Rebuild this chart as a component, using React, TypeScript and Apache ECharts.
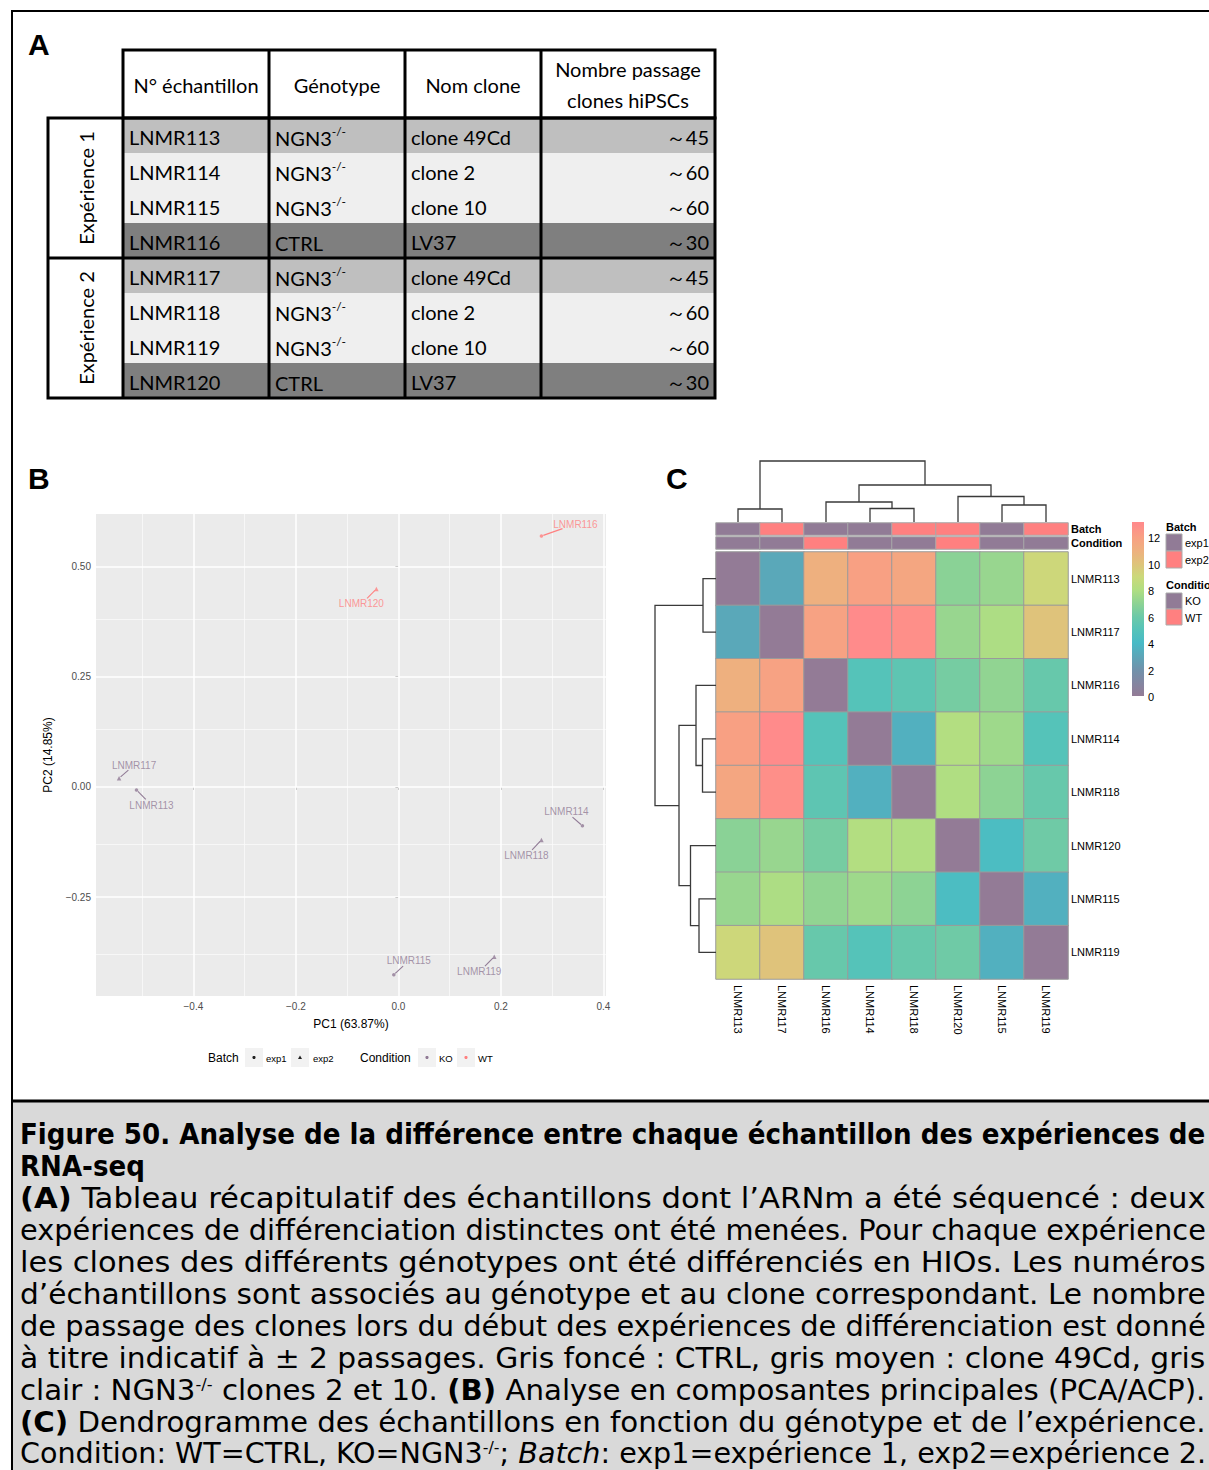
import React, { useEffect, useRef } from "react";
import * as echarts from "echarts";

// ---------------- Panel A : table ----------------
const experiments = ["Expérience 1", "Expérience 2"];
const tableHeaders = ["N° échantillon", "Génotype", "Nom clone"];
const passageHeader = ["Nombre passage", "clones hiPSCs"];
const sampleIds = ["LNMR113", "LNMR114", "LNMR115", "LNMR116", "LNMR117", "LNMR118", "LNMR119", "LNMR120"];
const genotypes = ["NGN3", "NGN3", "NGN3", "CTRL", "NGN3", "NGN3", "NGN3", "CTRL"];
const genotypeSup = ["-/-", "-/-", "-/-", "", "-/-", "-/-", "-/-", ""];
const cloneNames = ["clone 49Cd", "clone 2", "clone 10", "LV37", "clone 49Cd", "clone 2", "clone 10", "LV37"];
const passages = ["～45", "～60", "～60", "～30", "～45", "～60", "～60", "～30"];

// ---------------- Panel B : PCA ----------------
const pcaSamples = ["LNMR113", "LNMR114", "LNMR115", "LNMR116", "LNMR117", "LNMR118", "LNMR119", "LNMR120"];
const pc1 = [-0.511, 0.359, -0.009, 0.279, -0.545, 0.279, 0.187, -0.043];
const pc2 = [-0.007, -0.088, -0.426, 0.569, 0.02, -0.12, -0.385, 0.449];
const batch = ["exp1", "exp1", "exp1", "exp1", "exp2", "exp2", "exp2", "exp2"];
const condition = ["KO", "KO", "KO", "WT", "KO", "KO", "KO", "WT"];
const pcaXTicks = [-0.4, -0.2, 0, 0.2, 0.4];
const pcaYTicks = [-0.25, 0, 0.25, 0.5];
const pcaXMinor = [-0.5, -0.3, -0.1, 0.1, 0.3];
const pcaYMinor = [-0.375, -0.125, 0.125, 0.375];

// ---------------- Panel C : distance heatmap ----------------
const heatOrder = ["LNMR113", "LNMR117", "LNMR116", "LNMR114", "LNMR118", "LNMR120", "LNMR115", "LNMR119"];
const distMatrix = [
  [0, 3.1, 11.0, 12.0, 11.6, 6.9, 7.3, 9.1],
  [3.1, 0, 11.9, 13.0, 12.8, 7.3, 7.9, 10.0],
  [11.0, 11.9, 0, 5.0, 5.4, 6.3, 7.1, 5.8],
  [12.0, 13.0, 5.0, 0, 3.5, 8.1, 7.5, 5.0],
  [11.6, 12.8, 5.4, 3.5, 0, 8.0, 7.0, 5.8],
  [6.9, 7.3, 6.3, 8.1, 8.0, 0, 4.3, 6.1],
  [7.3, 7.9, 7.1, 7.5, 7.0, 4.3, 0, 3.5],
  [9.1, 10.0, 5.8, 5.0, 5.8, 6.1, 3.5, 0],
];
// merges: [child a, child b, height]; numbers refer to earlier merges
const dendroMerges: [string | number, string | number, number][] = [
  ["LNMR113", "LNMR117", 13],
  ["LNMR114", "LNMR118", 13.5],
  ["LNMR116", 1, 20],
  ["LNMR115", "LNMR119", 17],
  ["LNMR120", 3, 25.5],
  [2, 4, 37],
  [0, 5, 61],
];
const colorbarTicks = [0, 2, 4, 6, 8, 10, 12];
const colorbarMax = 13.15;
const heatPalette = [
  "#937b96", "#8386a1", "#7092ab", "#5ca6b8", "#48bac6", "#55c3b9", "#6cc9a8",
  "#8dd394", "#b0de82", "#cbd97a", "#dfc37b", "#eeb07f", "#f8a083", "#ff8b8b",
];
const groupColors: Record<string, string> = { exp1: "#917b96", exp2: "#ff8080", KO: "#917b96", WT: "#ff8080" };

// ---------------- Caption ----------------
const captionLines: [string, string][][] = [
  [["b", "Figure 50. Analyse de la différence entre chaque échantillon des expériences de"]],
  [["b", "RNA-seq"]],
  [["b", "(A)"], ["n", " Tableau récapitulatif des échantillons dont l’ARNm a été séquencé : deux"]],
  [["n", "expériences de différenciation distinctes ont été menées. Pour chaque expérience"]],
  [["n", "les clones des différents génotypes ont été différenciés en HIOs. Les numéros"]],
  [["n", "d’échantillons sont associés au génotype et au clone correspondant. Le nombre"]],
  [["n", "de passage des clones lors du début des expériences de différenciation est donné"]],
  [["n", "à titre indicatif à ± 2 passages. Gris foncé : CTRL, gris moyen : clone 49Cd, gris"]],
  [["n", "clair : NGN3"], ["s", "-/-"], ["n", " clones 2 et 10. "], ["b", "(B)"], ["n", " Analyse en composantes principales (PCA/ACP)."]],
  [["b", "(C)"], ["n", " Dendrogramme des échantillons en fonction du génotype et de l’expérience."]],
  [["n", "Condition: WT=CTRL, KO=NGN3"], ["s", "-/-"], ["n", "; "], ["i", "Batch"], ["n", ": exp1=expérience 1, exp2=expérience 2."]],
];
const captionJustify = [true, false, true, true, true, true, true, true, true, true, true];

// label offsets (px) of the repelled PCA labels
const labelOffsets = [[15, 15], [-16, -14], [15, -14], [34, -12], [15, -13], [-15, 16], [-15, 15], [-15, 15]];

const ARIAL = "'Liberation Sans', Arial, sans-serif";
const TABLE_FONT = "Lato, 'Open Sans', sans-serif";
const CAP_FONT = "'Liberation Sans Narrow', 'DejaVu Sans Condensed', 'DejaVu Sans', sans-serif";

function txt(x: number, y: number, text: string, extra: any = {}, elExtra: any = {}) {
  const align = extra.align || "left";
  const va = extra.verticalAlign || "middle";
  return {
    type: "text",
    x,
    y,
    ...elExtra,
    style: {
      text,
      fill: "#000",
      ...extra,
      align,
      textAlign: align,
      verticalAlign: va,
      textVerticalAlign: va,
    },
  };
}
function line(x1: number, y1: number, x2: number, y2: number, w = 3, c = "#000") {
  return { type: "line", shape: { x1, y1, x2, y2 }, style: { stroke: c, lineWidth: w } };
}
function rect(x: number, y: number, w: number, h: number, fill: string, stroke?: string, lw = 1) {
  return { type: "rect", shape: { x, y, width: w, height: h }, style: { fill, stroke: stroke || "none", lineWidth: lw } };
}

function buildTable() {
  const els: any[] = [];
  const colX = [123, 269, 405, 541, 715];
  const expLeft = 48;
  const headTop = 50;
  const headBot = 118;
  const rowH = 35;
  const rich = {
    n: { fontSize: 20, fontFamily: TABLE_FONT, lineHeight: 24, fill: "#000" },
    s: { fontSize: 12, fontFamily: TABLE_FONT, lineHeight: 12, verticalAlign: "top", fill: "#000" },
  };
  sampleIds.forEach((id, i) => {
    const top = headBot + i * rowH;
    const shade = genotypes[i] === "CTRL" ? "#7f7f7f" : cloneNames[i] === "clone 49Cd" ? "#bfbfbf" : "#efefef";
    els.push(rect(colX[0], top, colX[4] - colX[0], rowH, shade));
  });
  els.push(rect(colX[0], headTop, colX[4] - colX[0], headBot - headTop, "none", "#000", 3));
  for (let c = 1; c < 4; c++) els.push(line(colX[c], headTop, colX[c], headBot + 8 * rowH));
  els.push(rect(expLeft, headBot, colX[4] - expLeft, 8 * rowH, "none", "#000", 3));
  els.push(line(colX[0], headBot, colX[0], headBot + 8 * rowH));
  els.push(line(expLeft, headBot + 4 * rowH, colX[4], headBot + 4 * rowH));
  tableHeaders.forEach((h, c) => {
    els.push(txt((colX[c] + colX[c + 1]) / 2, 85, h, { align: "center", fontSize: 20, fontFamily: TABLE_FONT }));
  });
  els.push(txt((colX[3] + colX[4]) / 2, 69, passageHeader[0], { align: "center", fontSize: 20, fontFamily: TABLE_FONT }));
  els.push(txt((colX[3] + colX[4]) / 2, 100, passageHeader[1], { align: "center", fontSize: 20, fontFamily: TABLE_FONT }));
  sampleIds.forEach((id, i) => {
    const cy = headBot + i * rowH + rowH / 2 + 1;
    els.push(txt(colX[0] + 6, cy, id, { fontSize: 20, fontFamily: TABLE_FONT }));
    const gText = genotypeSup[i] ? `{n|${genotypes[i]}}{s|${genotypeSup[i]}}` : `{n|${genotypes[i]}}`;
    els.push(txt(colX[1] + 6, cy + 1, gText, { rich }));
    els.push(txt(colX[2] + 6, cy, cloneNames[i], { fontSize: 20, fontFamily: TABLE_FONT }));
    els.push(txt(colX[4] - 6, cy, passages[i], { align: "right", fontSize: 20, fontFamily: TABLE_FONT }));
  });
  experiments.forEach((e, g) => {
    els.push(
      txt(0, 0, e, { align: "center", fontSize: 20, fontFamily: TABLE_FONT }, {
        x: (expLeft + colX[0]) / 2,
        y: headBot + g * 4 * rowH + 2 * rowH,
        rotation: Math.PI / 2,
      })
    );
  });
  return els;
}

function buildCaption() {
  const els: any[] = [];
  const size = 29;
  const canvas = document.createElement("canvas");
  const ctx = canvas.getContext("2d")!;
  const fontOf = (k: string) => {
    if (k === "b") return `normal bold ${size}px ${CAP_FONT}`;
    if (k === "i") return `italic normal ${size}px ${CAP_FONT}`;
    if (k === "s") return `normal normal 16px ${CAP_FONT}`;
    return `normal normal ${size}px ${CAP_FONT}`;
  };
  const rich = {
    n: { fontSize: size, fontFamily: CAP_FONT, lineHeight: 28, fill: "#000" },
    b: { fontSize: size, fontFamily: CAP_FONT, fontWeight: "bold", lineHeight: 28, fill: "#000" },
    i: { fontSize: size, fontFamily: CAP_FONT, fontStyle: "italic", lineHeight: 28, fill: "#000" },
    s: { fontSize: 16, fontFamily: CAP_FONT, lineHeight: 14, verticalAlign: "top", fill: "#000" },
  };
  const left = 20;
  const target = 1186;
  captionLines.forEach((segs, li) => {
    let w = 0;
    segs.forEach(([k, t]) => {
      ctx.font = fontOf(k);
      w += ctx.measureText(t).width;
    });
    const sx = captionJustify[li] && w > 0 ? target / w : 1;
    const str = segs.map(([k, t]) => `{${k}|${t}}`).join("");
    els.push(txt(0, 0, str, { rich }, { x: left, y: 1134 + li * 32 - (li === 10 ? 1 : 0), scaleX: sx }));
  });
  return els;
}

function buildPcaLegend() {
  const els: any[] = [];
  const cy = 1058;
  els.push(txt(208, cy, "Batch", { fontSize: 12, fontFamily: ARIAL }));
  els.push(rect(245, 1048, 18, 19, "#f2f2f2"));
  els.push({ type: "circle", shape: { cx: 254, cy: 1057.5, r: 1.6 }, style: { fill: "#222" } });
  els.push(txt(266, cy, "exp1", { fontSize: 9.5, fontFamily: ARIAL }));
  els.push(rect(291, 1048, 18, 19, "#f2f2f2"));
  els.push({ type: "polygon", shape: { points: [[300, 1055.5], [302, 1059], [298, 1059]] }, style: { fill: "#222" } });
  els.push(txt(313, cy, "exp2", { fontSize: 9.5, fontFamily: ARIAL }));
  els.push(txt(360, cy, "Condition", { fontSize: 12, fontFamily: ARIAL }));
  els.push(rect(418, 1048, 18, 19, "#f2f2f2"));
  els.push({ type: "circle", shape: { cx: 427, cy: 1057.5, r: 1.6 }, style: { fill: groupColors.KO } });
  els.push(txt(439, cy, "KO", { fontSize: 9.5, fontFamily: ARIAL }));
  els.push(rect(457, 1048, 18, 19, "#f2f2f2"));
  els.push({ type: "circle", shape: { cx: 466, cy: 1057.5, r: 1.6 }, style: { fill: groupColors.WT } });
  els.push(txt(478, cy, "WT", { fontSize: 9.5, fontFamily: ARIAL }));
  return els;
}

function buildHeatLegend() {
  const els: any[] = [];
  const barX = 1132, barTop = 522, barBot = 696, barW = 12;
  const stops = heatPalette.map((c, i) => ({ offset: i / colorbarMax, color: c }));
  stops.push({ offset: 1, color: heatPalette[heatPalette.length - 1] });
  els.push({
    type: "rect",
    shape: { x: barX, y: barTop, width: barW, height: barBot - barTop },
    style: { fill: { type: "linear", x: 0, y: 1, x2: 0, y2: 0, colorStops: stops } },
  });
  const pxPer = (barBot - barTop) / colorbarMax;
  colorbarTicks.forEach((v) => {
    els.push(txt(1148, barBot - v * pxPer + 1, String(v), { fontSize: 11, fontFamily: ARIAL }));
  });
  const lx = 1166;
  els.push(txt(lx, 527, "Batch", { fontSize: 11, fontWeight: "bold", fontFamily: ARIAL }));
  els.push(rect(lx, 534, 16, 17, groupColors.exp1, "#aaaaaa"));
  els.push(rect(lx, 551, 16, 17, groupColors.exp2, "#aaaaaa"));
  els.push(txt(lx + 19, 543, "exp1", { fontSize: 11, fontFamily: ARIAL }));
  els.push(txt(lx + 19, 560, "exp2", { fontSize: 11, fontFamily: ARIAL }));
  els.push(txt(lx, 585, "Condition", { fontSize: 11, fontWeight: "bold", fontFamily: ARIAL }));
  els.push(rect(lx, 593, 16, 16, groupColors.KO, "#aaaaaa"));
  els.push(rect(lx, 609, 16, 16, groupColors.WT, "#aaaaaa"));
  els.push(txt(lx + 19, 601, "KO", { fontSize: 11, fontFamily: ARIAL }));
  els.push(txt(lx + 19, 618, "WT", { fontSize: 11, fontFamily: ARIAL }));
  return els;
}

function dendroSegments() {
  const pos: number[] = [];
  const hgt: number[] = [];
  const segs: number[][] = [];
  dendroMerges.forEach(([a, b, h], i) => {
    const pa = typeof a === "number" ? pos[a] : heatOrder.indexOf(a) + 0.5;
    const ha = typeof a === "number" ? hgt[a] : 0;
    const pb = typeof b === "number" ? pos[b] : heatOrder.indexOf(b) + 0.5;
    const hb = typeof b === "number" ? hgt[b] : 0;
    pos[i] = (pa + pb) / 2;
    hgt[i] = h;
    segs.push([pa, ha, pb, hb, h]);
  });
  return segs;
}

const fmtMinus = (v: number, d: number) => (v < 0 ? "−" : "") + Math.abs(v).toFixed(d);

export default function App() {
  const ref = useRef<HTMLDivElement>(null);
  useEffect(() => {
    if (!ref.current) return;
    const chart = echarts.init(ref.current, null, { renderer: "svg" });
    const segs = dendroSegments();
    const maxH = 61;
    const heatData: number[][] = [];
    distMatrix.forEach((row, r) => row.forEach((v, c) => heatData.push([c, r, v])));
    const sampleIdx = (s: string) => pcaSamples.indexOf(s);
    const batchData = heatOrder.map((s, i) => [i, 0, batch[sampleIdx(s)] === "exp1" ? 0 : 1]);
    const condData = heatOrder.map((s, i) => [i, 0, condition[sampleIdx(s)] === "KO" ? 0 : 1]);
    const dendroStyle = { stroke: "#3a3a3a", fill: "none", lineWidth: 1.3 };

    const gridLines: any[] = [];
    pcaXMinor.forEach((v) => gridLines.push({ xAxis: v, lineStyle: { color: "#fafafa", width: 0.8, type: "solid" } }));
    pcaYMinor.forEach((v) => gridLines.push({ yAxis: v, lineStyle: { color: "#fafafa", width: 0.8, type: "solid" } }));
    pcaXTicks.forEach((v) => gridLines.push({ xAxis: v, lineStyle: { color: "#ffffff", width: 1.5, type: "solid" } }));
    pcaYTicks.forEach((v) => gridLines.push({ yAxis: v, lineStyle: { color: "#ffffff", width: 1.5, type: "solid" } }));

    const hiddenCat = (gi: number) => ({ gridIndex: gi, type: "category", data: heatOrder, show: false });

    const option: any = {
      animation: false,
      backgroundColor: "#ffffff",
      grid: [
        { left: 96, top: 514, width: 510, height: 482, show: true, backgroundColor: "#ebebeb", borderWidth: 0 },
        { left: 716, top: 552, width: 352, height: 427 },
        { left: 716, top: 523, width: 352, height: 12 },
        { left: 716, top: 537, width: 352, height: 12 },
        { left: 716, top: 461, width: 352, height: 61 },
        { left: 655, top: 552, width: 61, height: 427 },
      ],
      xAxis: [
        {
          gridIndex: 0, type: "value", min: -0.59, max: 0.405,
          splitLine: { show: false }, axisLine: { show: false },
          axisTick: { show: true, length: 3, customValues: pcaXTicks, lineStyle: { color: "#333" } },
          axisLabel: { customValues: pcaXTicks, formatter: (v: number) => fmtMinus(v, 1), fontSize: 10, color: "#4d4d4d", margin: 5, fontFamily: ARIAL },
          name: "PC1 (63.87%)", nameLocation: "middle", nameGap: 22,
          nameTextStyle: { fontSize: 12, color: "#000", fontFamily: ARIAL },
        },
        {
          gridIndex: 1, type: "category", data: heatOrder,
          axisLine: { show: false }, axisTick: { show: false }, splitLine: { show: false },
          axisLabel: { rotate: -90, fontSize: 11, color: "#000", margin: 6, fontFamily: ARIAL },
        },
        hiddenCat(2),
        hiddenCat(3),
        { gridIndex: 4, type: "value", min: 0, max: heatOrder.length, show: false },
        { gridIndex: 5, type: "value", min: 0, max: maxH, inverse: true, show: false },
      ],
      yAxis: [
        {
          gridIndex: 0, type: "value", min: -0.474, max: 0.619,
          splitLine: { show: false }, axisLine: { show: false },
          axisTick: { show: true, length: 3, customValues: pcaYTicks, lineStyle: { color: "#333" } },
          axisLabel: { customValues: pcaYTicks, formatter: (v: number) => fmtMinus(v, 2), fontSize: 10, color: "#4d4d4d", margin: 5, fontFamily: ARIAL },
          name: "PC2 (14.85%)", nameLocation: "middle", nameGap: 42,
          nameTextStyle: { fontSize: 12, color: "#000", fontFamily: ARIAL },
        },
        {
          gridIndex: 1, type: "category", data: heatOrder, inverse: true, position: "right",
          axisLine: { show: false }, axisTick: { show: false }, splitLine: { show: false },
          axisLabel: { fontSize: 11, color: "#000", margin: 3, fontFamily: ARIAL },
        },
        {
          gridIndex: 2, type: "category", data: ["Batch"], position: "right",
          axisLine: { show: false }, axisTick: { show: false },
          axisLabel: { fontSize: 11, fontWeight: "bold", color: "#000", margin: 3, fontFamily: ARIAL },
        },
        {
          gridIndex: 3, type: "category", data: ["Condition"], position: "right",
          axisLine: { show: false }, axisTick: { show: false },
          axisLabel: { fontSize: 11, fontWeight: "bold", color: "#000", margin: 3, fontFamily: ARIAL },
        },
        { gridIndex: 4, type: "value", min: 0, max: maxH, show: false },
        { gridIndex: 5, type: "value", min: 0, max: heatOrder.length, inverse: true, show: false },
      ],
      visualMap: [
        { type: "continuous", seriesIndex: 2, min: 0, max: heatPalette.length - 1, show: false, inRange: { color: heatPalette } },
        {
          type: "piecewise", seriesIndex: [3, 4], show: false,
          pieces: [{ value: 0, color: groupColors.exp1 }, { value: 1, color: groupColors.exp2 }],
        },
      ],
      series: [
        {
          type: "scatter", xAxisIndex: 0, yAxisIndex: 0, data: [], silent: true,
          markLine: { silent: true, z: 1, symbol: ["none", "none"], label: { show: false }, data: gridLines },
        },
        {
          type: "scatter", xAxisIndex: 0, yAxisIndex: 0, z: 10, silent: true,
          data: pcaSamples.map((s, i) => {
            const col = groupColors[condition[i]];
            return {
              name: s,
              value: [pc1[i], pc2[i]],
              symbol: batch[i] === "exp1" ? "circle" : "triangle",
              symbolSize: batch[i] === "exp1" ? 3.5 : 4.5,
              itemStyle: { color: col },
              label: { color: col },
            };
          }),
          label: { show: true, position: "inside", formatter: "{b}", fontSize: 10, fontFamily: ARIAL },
          labelLayout: (p: any) => ({ dx: labelOffsets[p.dataIndex][0], dy: labelOffsets[p.dataIndex][1] }),
        },
        {
          type: "heatmap", xAxisIndex: 1, yAxisIndex: 1, data: heatData, silent: true,
          itemStyle: { borderColor: "#9a9a9a", borderWidth: 1 }, emphasis: { disabled: true },
        },
        {
          type: "heatmap", xAxisIndex: 2, yAxisIndex: 2, data: batchData, silent: true,
          itemStyle: { borderColor: "#a8a8a8", borderWidth: 1 }, emphasis: { disabled: true },
        },
        {
          type: "heatmap", xAxisIndex: 3, yAxisIndex: 3, data: condData, silent: true,
          itemStyle: { borderColor: "#a8a8a8", borderWidth: 1 }, emphasis: { disabled: true },
        },
        {
          type: "custom", xAxisIndex: 4, yAxisIndex: 4, data: segs, silent: true,
          renderItem: (_p: any, api: any) => {
            const pa = api.value(0), ha = api.value(1), pb = api.value(2), hb = api.value(3), h = api.value(4);
            return {
              type: "polyline",
              shape: { points: [api.coord([pa, ha]), api.coord([pa, h]), api.coord([pb, h]), api.coord([pb, hb])] },
              style: dendroStyle,
            };
          },
        },
        {
          type: "custom", xAxisIndex: 5, yAxisIndex: 5, data: segs, silent: true,
          renderItem: (_p: any, api: any) => {
            const pa = api.value(0), ha = api.value(1), pb = api.value(2), hb = api.value(3), h = api.value(4);
            return {
              type: "polyline",
              shape: { points: [api.coord([ha, pa]), api.coord([h, pa]), api.coord([h, pb]), api.coord([hb, pb])] },
              style: dendroStyle,
            };
          },
        },
        {
          // repel segments from each point towards its label
          type: "custom", xAxisIndex: 0, yAxisIndex: 0, silent: true, z: 9,
          data: pcaSamples.map((s, i) => [pc1[i], pc2[i], i]),
          renderItem: (_p: any, api: any) => {
            const i = api.value(2);
            const p = api.coord([api.value(0), api.value(1)]);
            const o = labelOffsets[i];
            const len = Math.sqrt(o[0] * o[0] + o[1] * o[1]);
            const ux = o[0] / len, uy = o[1] / len;
            const reach = len * 0.62;
            return {
              type: "line",
              shape: { x1: p[0] + ux * 2, y1: p[1] + uy * 2, x2: p[0] + ux * reach, y2: p[1] + uy * reach },
              style: { stroke: groupColors[condition[i]], lineWidth: 1.1 },
            };
          },
        },
      ],
      graphic: {
        elements: [
          rect(13, 1102, 1196, 368, "#d9d9d9"),
          line(12, 11, 1209, 11, 2),
          line(12, 10, 12, 1470, 2),
          line(12, 1101, 1209, 1101, 3),
          txt(28, 44, "A", { fontSize: 30, fontWeight: "bold", fontFamily: ARIAL }),
          txt(28, 478, "B", { fontSize: 30, fontWeight: "bold", fontFamily: ARIAL }),
          txt(666, 478, "C", { fontSize: 30, fontWeight: "bold", fontFamily: ARIAL }),
          ...buildTable(),
          ...buildPcaLegend(),
          ...buildHeatLegend(),
          ...buildCaption(),
        ],
      },
    };
    chart.setOption(option);
    return () => chart.dispose();
  }, []);
  return <div ref={ref} style={{ position: "absolute", left: 0, top: 0, width: 1209, height: 1470 }} />;
}
